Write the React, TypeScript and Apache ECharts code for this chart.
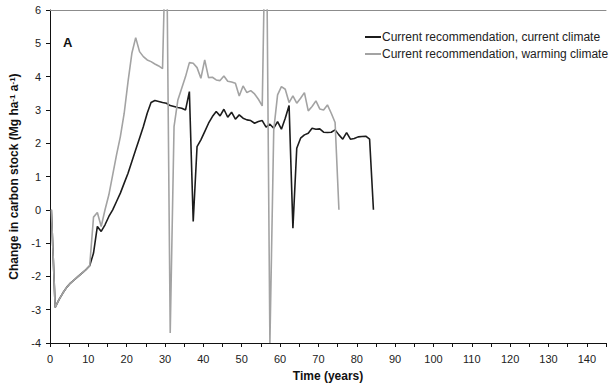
import React, { useEffect, useRef } from "react";
import * as echarts from "echarts";

// Time (years) of the first value; one value per year after that
const startYear = 0.35;

const currentClimate = [
  0, -2.93, -2.7, -2.5, -2.33, -2.2, -2.1, -2.0, -1.9, -1.8,
  -1.68, -1.3, -0.5, -0.65, -0.45, -0.2, 0.0, 0.25, 0.5, 0.8,
  1.1, 1.45, 1.8, 2.15, 2.5, 2.9, 3.22, 3.28, 3.25, 3.22,
  3.2, 3.13, 3.1, 3.07, 3.05, 3.0, 3.55, -0.35, 1.9, 2.1,
  2.35, 2.6, 2.8, 2.95, 2.82, 3.02, 2.78, 2.93, 2.72, 2.85,
  2.75, 2.7, 2.68, 2.6, 2.65, 2.68, 2.48, 2.57, 2.45, 2.65,
  2.42, 2.75, 3.13, -0.55, 1.85, 2.15, 2.25, 2.3, 2.45, 2.42,
  2.43, 2.33, 2.32, 2.33, 2.4, 2.25, 2.12, 2.32, 2.12, 2.14,
  2.19, 2.2, 2.21, 2.12, 0,
];

const warmingClimate = [
  0, -2.93, -2.7, -2.5, -2.33, -2.2, -2.1, -2.0, -1.9, -1.8,
  -1.68, -0.22, -0.08, -0.5, 0.0, 0.45, 1.05, 1.65, 2.2, 2.9,
  3.85, 4.7, 5.17, 4.75, 4.6, 4.5, 4.45, 4.38, 4.32, 4.24,
  9, -3.7, 2.5, 3.3, 3.65, 4.0, 4.42, 4.4, 4.27, 3.95,
  4.5, 3.97, 3.98, 3.9, 3.88, 4.02, 3.86, 3.84, 3.8, 3.42,
  3.72, 3.52, 3.58, 3.48, 3.32, 3.12, 10, -4.0, 2.4, 3.45,
  3.7, 3.62, 3.22, 3.42, 3.2, 3.35, 3.52, 2.97, 3.1, 3.27,
  3.03, 3.0, 3.15, 2.9, 2.62, 0,
];

const seriesNames = [
  "Current recommendation, current climate",
  "Current recommendation, warming climate",
];

const xMin = 0;
const xMax = 145;
const xStep = 5;
const yMin = -4;
const yMax = 6;
const yStep = 1;

const FONT = "'Liberation Sans', Arial, Helvetica, sans-serif";

const toPairs = (vals: number[]) => vals.map((v, i) => [startYear + i, v]);

export default function App() {
  const ref = useRef<HTMLDivElement>(null);

  useEffect(() => {
    document.body.style.margin = "0";
    if (!ref.current) return;
    const chart = echarts.init(ref.current, null, { renderer: "svg" });
    chart.setOption({
      animation: false,
      backgroundColor: "#ffffff",
      textStyle: { fontFamily: FONT },
      grid: { left: 46, right: 3, top: 10, bottom: 46, containLabel: false },
      legend: {
        show: true,
        orient: "vertical",
        left: 360,
        top: 26,
        icon: "rect",
        itemWidth: 16,
        itemHeight: 2,
        itemGap: 5,
        textStyle: {
          fontFamily: FONT,
          fontSize: 12,
          color: "#222",
          padding: [0, 0, 0, -4],
        },
        data: seriesNames,
      },
      graphic: [
        {
          type: "text",
          left: 63,
          top: 36,
          style: {
            text: "A",
            font: `bold 13px ${FONT}`,
            fill: "#111",
          },
        },
      ],
      xAxis: [
        {
          type: "value",
          min: xMin,
          max: xMax,
          interval: xStep,
          position: "bottom",
          name: "Time (years)",
          nameLocation: "middle",
          nameGap: 27,
          nameTextStyle: {
            fontFamily: FONT,
            fontSize: 12,
            fontWeight: "bold",
            color: "#111",
          },
          axisLine: { show: true, onZero: false, lineStyle: { color: "#111", width: 1 } },
          axisTick: { show: true, length: 4, lineStyle: { color: "#111" } },
          axisLabel: {
            fontFamily: FONT,
            fontSize: 11,
            color: "#222",
            margin: 10,
            formatter: (v: number) => (v % 10 === 0 ? String(v) : ""),
          },
          splitLine: { show: false },
        },
        {
          type: "value",
          min: xMin,
          max: xMax,
          position: "top",
          axisLine: { show: true, onZero: false, lineStyle: { color: "#8c8c8c", width: 1 } },
          axisTick: { show: false },
          axisLabel: { show: false },
          splitLine: { show: false },
        },
      ],
      yAxis: {
        type: "value",
        min: yMin,
        max: yMax,
        interval: yStep,
        name: "{b|Change in carbon stock (Mg ha}{s|-1}{b| a}{s|-1}{b|)}",
        nameLocation: "middle",
        nameGap: 30,
        nameTextStyle: {
          fontFamily: FONT,
          rich: {
            b: { fontFamily: FONT, fontSize: 12, fontWeight: "bold", color: "#111" },
            s: {
              fontFamily: FONT,
              fontSize: 8,
              fontWeight: "bold",
              color: "#111",
              verticalAlign: "top",
            },
          },
        },
        axisLine: { show: true, onZero: false, lineStyle: { color: "#111", width: 1 } },
        axisTick: { show: true, length: 4, lineStyle: { color: "#111" } },
        axisLabel: { fontFamily: FONT, fontSize: 11, color: "#222", margin: 9 },
        splitLine: { show: false },
      },
      series: [
        {
          name: seriesNames[0],
          type: "line",
          xAxisIndex: 0,
          data: toPairs(currentClimate),
          symbol: "none",
          showSymbol: false,
          clip: true,
          lineStyle: { color: "#1c1c1c", width: 1.6 },
          itemStyle: { color: "#1c1c1c" },
        },
        {
          name: seriesNames[1],
          type: "line",
          xAxisIndex: 0,
          data: toPairs(warmingClimate),
          symbol: "none",
          showSymbol: false,
          clip: true,
          lineStyle: { color: "#a3a3a3", width: 1.6 },
          itemStyle: { color: "#a3a3a3" },
        },
      ],
    });
    return () => chart.dispose();
  }, []);

  return <div ref={ref} style={{ width: 609, height: 389 }} />;
}
